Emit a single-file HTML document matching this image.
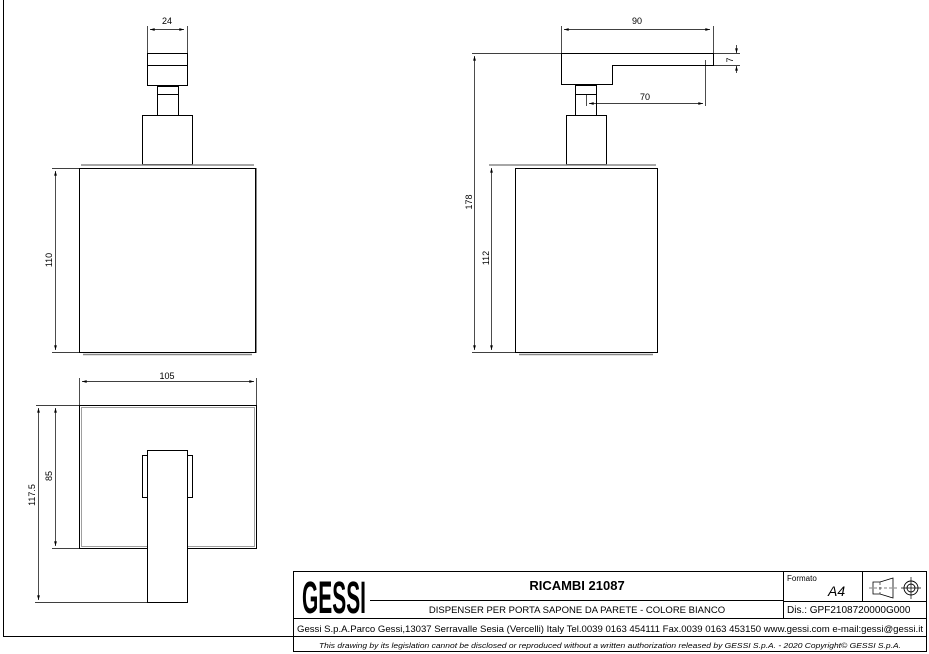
<!DOCTYPE html>
<html><head><meta charset="utf-8"><style>
html,body{margin:0;padding:0;background:#fff}
svg{display:block}
text{font-family:"Liberation Sans",sans-serif;fill:#000}
</style></head><body>
<svg width="929" height="654" viewBox="0 0 929 654" xmlns="http://www.w3.org/2000/svg">
<defs>
<marker id="a" viewBox="0 0 10 6" refX="10" refY="3" markerWidth="9" markerHeight="4" orient="auto-start-reverse"><path d="M0,0L10,3L0,6z" fill="#000"/></marker>
</defs>
<g fill="none" stroke="#000" stroke-width="1">
<path d="M3.5,0V636.5H293"/>
<!-- LEFT VIEW -->
<path d="M147.5,26V53M187.5,26V53" stroke-width="0.7"/>
<path d="M150,29.5H184" marker-start="url(#a)" marker-end="url(#a)" stroke-width="0.7"/>
<rect x="147.5" y="53.5" width="40" height="32"/>
<path d="M147.5,65.5H187.5"/>
<rect x="157.5" y="86.5" width="21" height="29"/>
<path d="M157.5,94.5H178.5"/>
<rect x="142.5" y="115.5" width="50" height="49"/>
<path d="M81,165H254" stroke="#888" stroke-width="1.5"/>
<rect x="79.5" y="168.5" width="176" height="184"/>
<path d="M256.5,168V353" stroke="#888"/>
<path d="M83,354.5H252" stroke="#888" stroke-width="1.5"/>
<path d="M52,168.5H79M52,352.5H79" stroke-width="0.7"/>
<path d="M55.5,171V350" marker-start="url(#a)" marker-end="url(#a)" stroke-width="0.7"/>
<!-- RIGHT VIEW -->
<path d="M561.5,26V53M713.5,26V65" stroke-width="0.7"/>
<path d="M564,29.5H710" marker-start="url(#a)" marker-end="url(#a)" stroke-width="0.7"/>
<path d="M472,53.5H740M713,65.5H740" stroke-width="0.7"/>
<path d="M736.5,45V53" marker-end="url(#a)" stroke-width="0.7"/>
<path d="M736.5,73V66" marker-end="url(#a)" stroke-width="0.7"/>
<path d="M561.5,53.5H713.5V65.5H612.5V84.5H561.5Z"/>
<rect x="575.5" y="85.5" width="21" height="30"/>
<path d="M575.5,94.5H596.5"/>
<path d="M705.5,60V106M586.5,95V106" stroke-width="0.7"/>
<path d="M589,103.5H703" marker-start="url(#a)" marker-end="url(#a)" stroke-width="0.7"/>
<rect x="566.5" y="115.5" width="40" height="49"/>
<path d="M489,165H656" stroke="#888" stroke-width="1.5"/>
<rect x="515.5" y="168.5" width="142" height="184"/>
<path d="M519,354.5H653" stroke="#888" stroke-width="1.5"/>
<path d="M472,352.5H515" stroke-width="0.7"/>
<path d="M474.5,56V350" marker-start="url(#a)" marker-end="url(#a)" stroke-width="0.7"/>
<path d="M491.5,168V350" marker-start="url(#a)" marker-end="url(#a)" stroke-width="0.7"/>
<!-- BOTTOM VIEW -->
<path d="M79.5,378V405M256.5,378V405" stroke-width="0.7"/>
<path d="M82,381.5H254" marker-start="url(#a)" marker-end="url(#a)" stroke-width="0.7"/>
<rect x="79.5" y="405.5" width="177" height="143"/>
<rect x="81.5" y="407.5" width="173" height="139" stroke="#777" stroke-width="0.7"/>
<path d="M36,405.5H79M52,548.5H79M35,602.5H147" stroke-width="0.7"/>
<path d="M55.5,408V546" marker-start="url(#a)" marker-end="url(#a)" stroke-width="0.7"/>
<path d="M38.5,408V600" marker-start="url(#a)" marker-end="url(#a)" stroke-width="0.7"/>
<rect x="147.5" y="450.5" width="40" height="152" fill="#fff"/>
<rect x="142.5" y="455.5" width="5" height="42"/>
<rect x="187.5" y="455.5" width="5" height="42"/>
<!-- TITLE BLOCK -->
<rect x="293.5" y="571.5" width="633" height="80"/>
<path d="M293.5,618.5H926.5M293.5,636.5H926.5M783.5,571.5V618.5M862.5,571.5V601.5M783.5,601.5H926.5"/>
<path d="M370,600.5H783" stroke-width="1"/>
<path d="M873,582H880L893,578V598L880,594H873Z" stroke-width="0.8"/>
<path d="M869,588H899M880,582V594" stroke-width="0.6" stroke-dasharray="3,2"/>
<circle cx="911" cy="588" r="7" stroke-width="0.9"/>
<circle cx="911" cy="588" r="4" stroke-width="0.9"/>
<path d="M901,588H921M911,577V599" stroke-width="0.7"/>
</g>
<text x="167" y="24" font-size="9" text-anchor="middle">24</text>
<text transform="translate(52,260) rotate(-90)" font-size="9" text-anchor="middle">110</text>
<text x="637" y="24" font-size="9" text-anchor="middle">90</text>
<text x="645" y="100" font-size="9" text-anchor="middle">70</text>
<text transform="translate(733,60) rotate(-90)" font-size="9" text-anchor="middle">7</text>
<text transform="translate(472,202) rotate(-90)" font-size="9" text-anchor="middle">178</text>
<text transform="translate(489,258) rotate(-90)" font-size="9" text-anchor="middle">112</text>
<text x="167" y="379" font-size="9" text-anchor="middle">105</text>
<text transform="translate(52,476) rotate(-90)" font-size="9" text-anchor="middle">85</text>
<text transform="translate(35,495) rotate(-90)" font-size="9" text-anchor="middle">117.5</text>
<text transform="translate(302,613) scale(1,1.5)" font-size="30" font-weight="bold" textLength="64" lengthAdjust="spacingAndGlyphs">GESSI</text>
<text x="577" y="590" font-size="13" font-weight="bold" text-anchor="middle">RICAMBI 21087</text>
<text x="577" y="613" font-size="9.5" text-anchor="middle">DISPENSER PER PORTA SAPONE DA PARETE - COLORE BIANCO</text>
<text x="787" y="581" font-size="8">Formato</text>
<text x="828" y="596" font-size="14" font-style="italic">A4</text>
<text x="787" y="613" font-size="10">Dis.: GPF2108720000G000</text>
<text x="610" y="632" font-size="9.3" text-anchor="middle" textLength="626" lengthAdjust="spacingAndGlyphs">Gessi S.p.A.Parco Gessi,13037 Serravalle Sesia (Vercelli) Italy Tel.0039 0163 454111 Fax.0039 0163 453150 www.gessi.com e-mail:gessi@gessi.it</text>
<text x="610" y="648" font-size="7.5" font-style="italic" text-anchor="middle" textLength="582" lengthAdjust="spacingAndGlyphs">This drawing by its legislation cannot be disclosed or reproduced without a written authorization released by GESSI S.p.A. - 2020 Copyright© GESSI S.p.A.</text>
</svg>
</body></html>
